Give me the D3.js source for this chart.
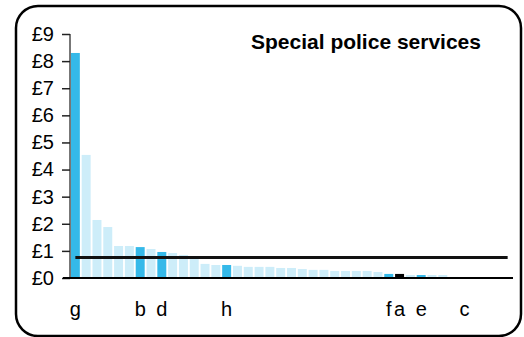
<!DOCTYPE html>
<html><head><meta charset="utf-8">
<script src="https://cdn.jsdelivr.net/npm/d3@7"></script>
<style>html,body{margin:0;padding:0;background:#fff;}svg{display:block;}</style>
</head><body>
<script>
const title = "Special police services";
const categories = ["g","","","","","","b","","d","","","","","","h","","","","","","","","","","","","","","","f","a","","e","","","","c","","","",""];
const values = [8.30,4.54,2.14,1.88,1.18,1.18,1.14,1.07,0.96,0.92,0.85,0.80,0.52,0.48,0.48,0.45,0.41,0.41,0.41,0.37,0.37,0.33,0.30,0.30,0.26,0.26,0.26,0.26,0.22,0.15,0.15,0.11,0.11,0.11,0.11,0.04,0,0,0,0,0];
const kinds = ["hl","","","","","","hl","","hl","","","","","","hl","","","","","","","","","","","","","","","hl","sel","","hl","","","","hl","","","",""];
const average = 0.76;
const yTicks = [0,1,2,3,4,5,6,7,8,9];

const W = 524, H = 337;
const svg = d3.select("body").append("svg").attr("width", W).attr("height", H);
const font = "Liberation Sans, Arial, sans-serif";

svg.append("rect").attr("x",16).attr("y",6).attr("width",505).attr("height",330)
  .attr("rx",22).attr("ry",22).attr("fill","none").attr("stroke","#000").attr("stroke-width",2.5);

const x0 = 70, x1 = 513, y0 = 278, yTop = 34;
const idx = values.map((d,i)=>i);
const x = d3.scaleBand().domain(idx).range([x0,x1]).paddingInner(0.17).paddingOuter(0.08);
const y = d3.scaleLinear().domain([0,9]).range([y0,yTop]);

const colour = k => k==="hl" ? "#35B9E9" : k==="sel" ? "#000" : "#CDEDF9";
svg.append("g").selectAll("rect").data(idx).join("rect")
  .attr("x", i=>x(i)).attr("width", x.bandwidth())
  .attr("y", i=>y(values[i])).attr("height", i=>y0-y(values[i]))
  .attr("fill", i=>colour(kinds[i]));

// y axis
const yAxis = d3.axisLeft(y).tickValues(yTicks).tickFormat(d=>"£"+d).tickSize(8).tickPadding(8);
const ga = svg.append("g").attr("transform",`translate(${x0},0)`).call(yAxis);
ga.select(".domain").attr("stroke","#777").attr("stroke-width",2).attr("d",`M0,${yTop}V${y0}`);
ga.selectAll(".tick line").attr("stroke","#222").attr("stroke-width",1.5);
ga.selectAll("text").attr("font-family",font).attr("font-size",20).attr("fill","#000");

// x axis line
svg.append("line").attr("x1",63).attr("x2",x1).attr("y1",y0).attr("y2",y0).attr("stroke","#000").attr("stroke-width",2);

// x labels
svg.append("g").selectAll("text").data(idx.filter(i=>categories[i])).join("text")
  .attr("x", i=>x(i)+x.bandwidth()/2).attr("y",316).attr("text-anchor","middle")
  .attr("font-family",font).attr("font-size",20).text(i=>categories[i]);

// average line
svg.append("line").attr("x1",x(0)+x.bandwidth()/2).attr("x2",x(values.length-1)+x.bandwidth()/2)
  .attr("y1",y(average)).attr("y2",y(average)).attr("stroke","#111").attr("stroke-width",3);

svg.append("text").attr("x",366).attr("y",49).attr("text-anchor","middle")
  .attr("font-family",font).attr("font-weight","bold").attr("font-size",21).text(title);
</script>
</body></html>
